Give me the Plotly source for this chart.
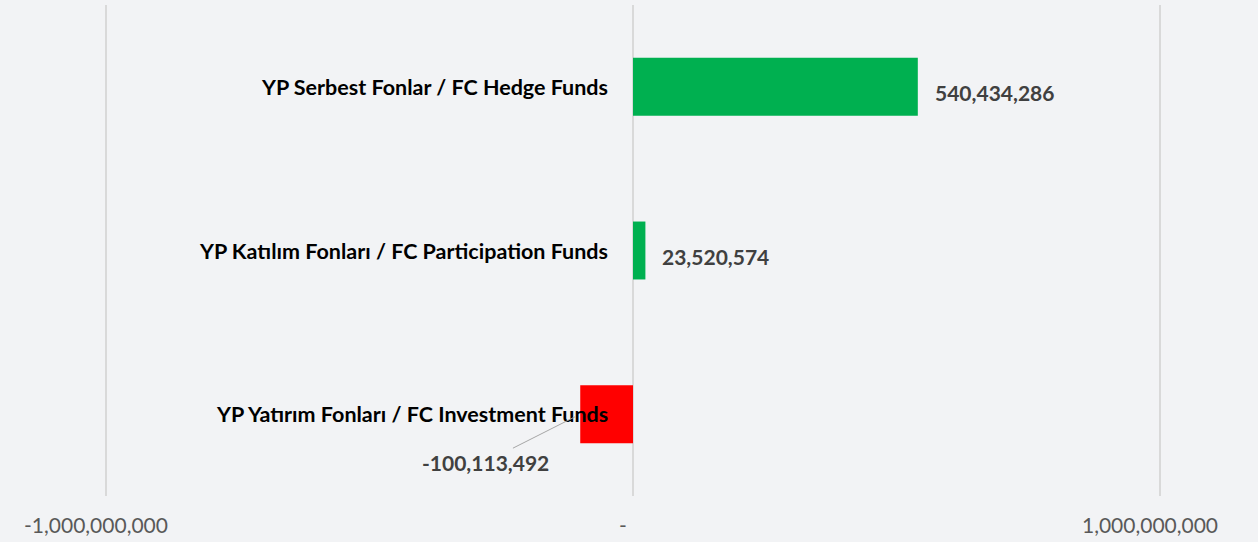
import plotly.graph_objects as go

categories = [
    "YP Serbest Fonlar / FC Hedge Funds",
    "YP Katılım Fonları / FC Participation Funds",
    "YP Yatırım Fonları / FC Investment Funds",
]
values = [540434286, 23520574, -100113492]
bar_colors = ["#00B050", "#00B050", "#FF0000"]
tick_vals = [-1000000000, 0, 1000000000]
tick_text = ["-1,000,000,000", "-", "1,000,000,000"]

FONT = "Lato"
X_EXT = 1049336000  # axis range a bit beyond ±1e9 so edge gridlines show

fig = go.Figure()
fig.add_trace(go.Bar(
    x=values, y=categories, orientation="h",
    marker=dict(color=bar_colors, line=dict(width=0)),
    width=0.354, hoverinfo="x+y",
))

annotations = []
for cat, v in zip(categories, values):
    annotations.append(dict(
        x=0, y=cat, xref="x", yref="y", text=f"<b>{cat}</b>",
        showarrow=False, xanchor="right", yanchor="middle", xshift=-23,
        font=dict(family=FONT, size=21.5, color="#000000"),
    ))
    label = f"<b>{v:,}</b>"
    if v >= 0:
        annotations.append(dict(
            x=v, y=cat, xref="x", yref="y", text=label, showarrow=False,
            xanchor="left", yanchor="middle", xshift=15, yshift=-6,
            font=dict(family=FONT, size=21, color="#404040"),
        ))
    else:
        annotations.append(dict(
            x=v, y=cat, xref="x", yref="y", text=label, showarrow=True,
            arrowhead=0, arrowwidth=1, arrowcolor="#A6A6A6",
            ax=-95, ay=48, standoff=6,
            font=dict(family=FONT, size=21, color="#404040"),
        ))

fig.update_layout(
    width=1258, height=542,
    margin=dict(l=80, r=72, t=5, b=46),
    paper_bgcolor="#F2F3F5", plot_bgcolor="#F2F3F5",
    showlegend=False,
    annotations=annotations,
    xaxis=dict(
        range=[-X_EXT, X_EXT],
        tickvals=tick_vals, ticktext=tick_text,
        showgrid=True, gridcolor="#D9D9D9", gridwidth=1.5,
        zeroline=True, zerolinecolor="#D9D9D9", zerolinewidth=1.5,
        showline=False, ticks="",
        tickfont=dict(family=FONT, size=21, color="#595959"),
        ticklabelshift=-10, ticklabelstandoff=15,
    ),
    yaxis=dict(
        categoryorder="array", categoryarray=categories,
        autorange="reversed", showticklabels=False,
        showgrid=False, zeroline=False, showline=False, ticks="",
    ),
)

fig.write_html("out.html", config={"displayModeBar": False},
               post_script="document.body.style.margin='0';")
